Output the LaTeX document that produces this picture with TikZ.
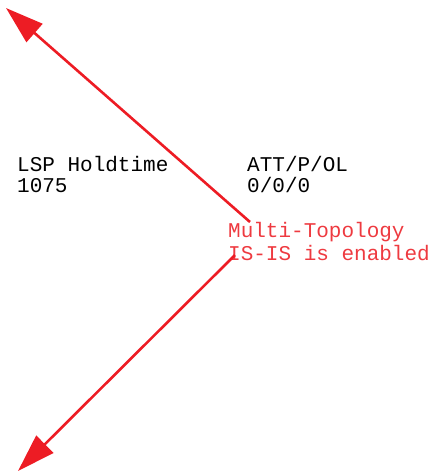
\documentclass[tikz,border=0pt]{standalone}
\usepackage{fontspec}
\setmonofont{Liberation Mono}
\usetikzlibrary{arrows.meta}
\definecolor{arrowred}{HTML}{ED1C24}
\definecolor{textred}{HTML}{EE3A40}

\begin{document}
\begin{tikzpicture}[x=1pt, y=-1pt,
        lbl/.style={anchor=base west, inner sep=0pt, font=\ttfamily\fontsize{21}{21}\selectfont},
        redarrow/.style={arrowred, line width=2.6pt, -{Triangle[length=38pt, width=24pt]}}]
        \useasboundingbox (0,0) rectangle (437,475);

        % header columns
        \node[lbl] (hold) at (17,171) {LSP Holdtime};
        \node[lbl] (holdval) at (17,192) {1075};
        \node[lbl] (att) at (247,171) {ATT/P/OL};
        \node[lbl] (attval) at (247,192) {0/0/0};

        % callout
        \node[lbl, textred] (mt) at (228,237) {Multi-Topology};
        \node[lbl, textred] (isis) at (228,260) {IS-IS is enabled};

        \coordinate (upstart) at (250,222);
        \coordinate (uptip) at (6,8);
        \coordinate (downstart) at (235,255);
        \coordinate (downtip) at (18,471);

        \draw[redarrow] (upstart) -- (uptip);
        \draw[redarrow] (downstart) -- (downtip);
    \end{tikzpicture}
\end{document}
